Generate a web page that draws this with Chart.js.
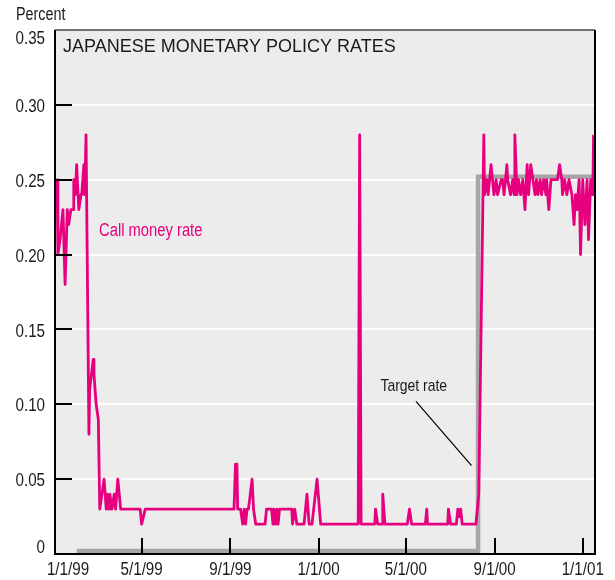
<!DOCTYPE html>
<html>
<head>
<meta charset="utf-8">
<script src="https://cdn.jsdelivr.net/npm/chart.js@4.4.0/dist/chart.umd.min.js"></script>
<style>
html, body { margin: 0; padding: 0; background: #fff; }
</style>
</head>
<body>
<canvas id="rates" width="615" height="580"></canvas>
<script>
// x values are days counted from 1/1/99
var tickDays   = [0, 120, 243, 365, 486, 609, 731];
var tickLabels = ['1/1/99', '5/1/99', '9/1/99', '1/1/00', '5/1/00', '9/1/00', '1/1/01'];
var yTicks     = [0, 0.05, 0.10, 0.15, 0.20, 0.25, 0.30, 0.35];
var yLabels    = ['0', '0.05', '0.10', '0.15', '0.20', '0.25', '0.30', '0.35'];

// call money rate (percent)
var callDays = [3, 4, 7, 11, 14, 17, 19, 22, 25, 26, 28, 30, 33, 36, 37, 40, 41, 43,
  47, 48, 53, 54, 57, 60, 62, 65, 68, 71, 72, 75, 76, 79, 82, 84, 87, 91, 118, 120, 125,
  248, 250, 252, 253, 257, 260, 262, 264, 266, 268, 273, 275, 278, 291, 293, 300, 302,
  303, 306, 307, 309, 311, 328, 329, 332, 335, 345, 349, 352, 356, 363, 368,
  420, 422, 424, 443, 444, 447, 453, 454, 457, 488, 491, 494, 513, 515, 516,
  544, 545, 548, 556, 558, 560, 562, 564, 583, 587, 594, 595, 598, 600, 604, 606, 608,
  611, 613, 618, 620, 622, 626, 627, 631, 634, 636, 637, 640, 642, 645, 648, 651, 654,
  656, 659, 662, 665, 667, 669, 672, 674, 677, 680, 681, 684, 687, 696, 699, 702, 703,
  706, 709, 712, 716, 719, 721, 723, 726, 728, 731, 734, 737, 739, 742, 745, 746];
var callRates = [0.25, 0.20, 0.21, 0.23, 0.18, 0.23, 0.22, 0.23, 0.23, 0.25, 0.24, 0.26, 0.23, 0.24, 0.24, 0.26, 0.24, 0.28,
  0.08, 0.11, 0.13, 0.12, 0.10, 0.09, 0.03, 0.04, 0.05, 0.03, 0.04, 0.03, 0.04, 0.03, 0.04, 0.03, 0.05, 0.03, 0.03, 0.02, 0.03,
  0.03, 0.06, 0.06, 0.03, 0.03, 0.02, 0.03, 0.02, 0.03, 0.03, 0.05, 0.03, 0.02, 0.02, 0.03, 0.03, 0.02,
  0.03, 0.02, 0.03, 0.02, 0.03, 0.03, 0.02, 0.03, 0.02, 0.02, 0.04, 0.02, 0.02, 0.05, 0.02,
  0.02, 0.28, 0.02, 0.02, 0.03, 0.02, 0.02, 0.04, 0.02, 0.02, 0.03, 0.02, 0.02, 0.03, 0.02,
  0.02, 0.03, 0.02, 0.02, 0.03, 0.025, 0.03, 0.02, 0.02, 0.04, 0.28, 0.24, 0.25, 0.24, 0.26, 0.25, 0.24,
  0.25, 0.24, 0.25, 0.25, 0.24, 0.26, 0.25, 0.24, 0.25, 0.24, 0.28, 0.24, 0.25, 0.24, 0.25, 0.23, 0.26,
  0.24, 0.26, 0.25, 0.24, 0.25, 0.24, 0.25, 0.24, 0.25, 0.24, 0.25, 0.23, 0.25, 0.25, 0.26, 0.25, 0.24,
  0.25, 0.24, 0.25, 0.24, 0.22, 0.24, 0.23, 0.25, 0.20, 0.25, 0.22, 0.25, 0.21, 0.25, 0.24, 0.28];

// target rate (stepped)
var targetDays  = [30, 586, 748];
var targetRates = [0.002, 0.252, 0.252];

var plain = "'Liberation Sans', Arial, Helvetica, sans-serif";

var callPoints = [];
for (var i = 0; i < callDays.length; i++) {
    callPoints.push({ x: callDays[i], y: callRates[i] });
}
var targetPoints = [];
for (var j = 0; j < targetDays.length; j++) {
    targetPoints.push({ x: targetDays[j], y: targetRates[j] });
}

// no condensed face is installed, so squeeze Liberation Sans sideways
function narrowText(c, txt, x, y, size, align, color) {
    c.save();
    c.font = size + 'px ' + plain;
    c.fillStyle = color || '#1a1a1a';
    c.textAlign = align;
    c.textBaseline = 'middle';
    c.translate(x, y);
    c.scale(0.82, 1);
    c.fillText(txt, 0, 0);
    c.restore();
}

// gray panel, frame, inside tick marks, labels and notes
var framePlugin = {
    id: 'frame',
    beforeDraw: function (chart) {
        var a = chart.chartArea, c = chart.ctx;
        c.save();
        c.fillStyle = '#ececec';
        c.fillRect(a.left, a.top, a.right - a.left, a.bottom - a.top);
        c.restore();
    },
    afterDraw: function (chart) {
        var a = chart.chartArea, c = chart.ctx;
        var xs = chart.scales.x, ys = chart.scales.y;
        c.save();

        // tick marks pointing inward
        c.strokeStyle = '#000';
        c.lineWidth = 2;
        c.beginPath();
        for (var k = 1; k < yTicks.length - 1; k++) {
            var py = Math.round(ys.getPixelForValue(yTicks[k]));
            c.moveTo(a.left, py);
            c.lineTo(a.left + 17, py);
        }
        for (var m = 1; m < tickDays.length; m++) {
            var px = Math.round(xs.getPixelForValue(tickDays[m]));
            c.moveTo(px, a.bottom);
            c.lineTo(px, a.bottom - 16);
        }
        c.stroke();

        // frame
        c.lineWidth = 1.5;
        c.strokeStyle = '#444';
        c.beginPath();
        c.moveTo(a.left, a.top);
        c.lineTo(a.right, a.top);
        c.stroke();
        c.lineWidth = 2;
        c.strokeStyle = '#000';
        c.beginPath();
        c.moveTo(a.right, a.top);
        c.lineTo(a.right, a.bottom);
        c.moveTo(a.left, a.top);
        c.lineTo(a.left, a.bottom);
        c.lineTo(a.right + 1, a.bottom);
        c.stroke();
        c.restore();

        // y labels (end ones pulled in as in the print)
        for (var n = 0; n < yTicks.length; n++) {
            var ly = ys.getPixelForValue(yTicks[n]) + 2;
            if (n === 0) ly = a.bottom - 6;
            if (n === yTicks.length - 1) ly = a.top + 9;
            narrowText(c, yLabels[n], a.left - 10, ly, 18.5, 'right');
        }
        // x labels
        for (var q = 0; q < tickDays.length; q++) {
            var lx = xs.getPixelForValue(tickDays[q]);
            if (q === 0) lx += 13;
            narrowText(c, tickLabels[q], lx, a.bottom + 16, 18.5, 'center');
        }

        narrowText(c, 'Percent', 16, 15, 17.5, 'left');

        c.save();
        c.font = '18px ' + plain;
        c.fillStyle = '#1a1a1a';
        c.textBaseline = 'middle';
        c.textAlign = 'left';
        c.fillText('JAPANESE MONETARY POLICY RATES', a.left + 8, a.top + 17);
        c.restore();

        narrowText(c, 'Call money rate', xs.getPixelForValue(61), ys.getPixelForValue(0.216), 18, 'left', '#e6007e');
        narrowText(c, 'Target rate', xs.getPixelForValue(497), ys.getPixelForValue(0.112), 17, 'center');

        c.save();
        c.strokeStyle = '#000';
        c.lineWidth = 1.2;
        c.beginPath();
        c.moveTo(xs.getPixelForValue(500), ys.getPixelForValue(0.102));
        c.lineTo(xs.getPixelForValue(577), ys.getPixelForValue(0.059));
        c.stroke();
        c.restore();
    }
};

var ctx = document.getElementById('rates').getContext('2d');
var rateChart = new Chart(ctx, {
    type: 'line',
    data: {
        datasets: [{
            label: 'Call money rate',
            data: callPoints,
            borderColor: '#e6007e',
            borderWidth: 2.8,
            borderJoinStyle: 'round',
            pointRadius: 0,
            tension: 0,
            order: 0
        }, {
            label: 'Target rate',
            data: targetPoints,
            borderColor: '#a6a6a6',
            borderWidth: 4.5,
            borderJoinStyle: 'miter',
            borderCapStyle: 'butt',
            stepped: true,
            pointRadius: 0,
            order: 1
        }]
    },
    options: {
        responsive: false,
        animation: false,
        layout: { padding: { top: 30, right: 20, left: 0, bottom: 0 } },
        plugins: {
            legend: { display: false },
            tooltip: { enabled: false }
        },
        scales: {
            x: {
                type: 'linear',
                min: 0,
                max: 748,
                afterBuildTicks: function (axis) {
                    axis.ticks = tickDays.map(function (d) { return { value: d }; });
                },
                afterFit: function (axis) { axis.height = 26; },
                ticks: { display: false },
                grid: { color: 'rgba(0,0,0,0)', drawTicks: false },
                border: { display: false }
            },
            y: {
                min: 0,
                max: 0.35,
                afterBuildTicks: function (axis) {
                    axis.ticks = yTicks.map(function (v) { return { value: v }; });
                },
                afterFit: function (axis) { axis.width = 55; },
                ticks: { display: false },
                grid: {
                    drawTicks: false,
                    lineWidth: 2,
                    color: function (c) {
                        var v = c.tick ? c.tick.value : 0;
                        return (v > 0.001 && v < 0.349) ? '#ffffff' : 'rgba(0,0,0,0)';
                    }
                },
                border: { display: false }
            }
        }
    },
    plugins: [framePlugin]
});
</script>
</body>
</html>
